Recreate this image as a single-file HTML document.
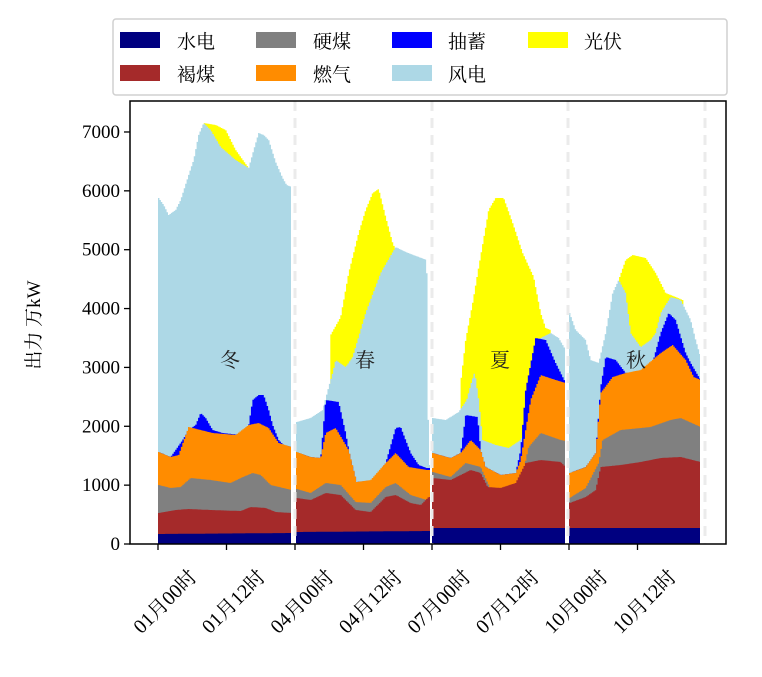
<!DOCTYPE html>
<html><head><meta charset="utf-8"><style>
html,body{margin:0;padding:0;background:#fff}
svg{display:block;font-family:"Liberation Serif","Noto Serif CJK SC",serif}
</style></head><body>
<svg id="s" width="762" height="677" viewBox="0 0 762 677" xmlns="http://www.w3.org/2000/svg">
<rect width="762" height="677" fill="#fff"/>
<g id="areas"></g>
<g stroke="#ebebeb" stroke-width="3" stroke-dasharray="10,7">
<line x1="295" y1="101" x2="295" y2="544"/><line x1="432" y1="101" x2="432" y2="544"/>
<line x1="568" y1="101" x2="568" y2="544"/><line x1="705" y1="101" x2="705" y2="544"/>
</g>
<g font-size="20" fill="#222" text-anchor="middle">
<text x="230" y="367">冬</text><text x="365" y="367">春</text><text x="500" y="367">夏</text><text x="636" y="367">秋</text>
</g>
<rect x="130" y="101" width="596" height="443" fill="none" stroke="#000" stroke-width="1.5"/>
<g stroke="#000" stroke-width="1.3" id="ticks"></g>
<g font-size="19" fill="#000" text-anchor="end" id="ylab"></g>
<g font-size="19" fill="#000" text-anchor="end" id="xlab"></g>
<text transform="translate(40,325) rotate(-90)" font-size="19" text-anchor="middle">出力 万kW</text>
<rect x="113" y="19" width="614" height="76" rx="3" fill="#fff" stroke="#d0d0d0" stroke-width="1.5"/>
<g font-size="19" fill="#000">
<rect x="120" y="32" width="40" height="16" fill="#000080"/><text x="177" y="48">水电</text>
<rect x="256" y="32" width="40" height="16" fill="#808080"/><text x="313" y="48">硬煤</text>
<rect x="392" y="32" width="40" height="16" fill="#0000ff"/><text x="448" y="48">抽蓄</text>
<rect x="528" y="32" width="40" height="16" fill="#ffff00"/><text x="584" y="48">光伏</text>
<rect x="120" y="65" width="40" height="16" fill="#a52a2a"/><text x="177" y="81">褐煤</text>
<rect x="256" y="65" width="40" height="16" fill="#ff8c00"/><text x="313" y="81">燃气</text>
<rect x="392" y="65" width="40" height="16" fill="#add8e6"/><text x="448" y="81">风电</text>
</g>
</svg>
<script>
var B=544,NS="http://www.w3.org/2000/svg";
var seasons=[
{x0:158,x1:291,L:{
sol:[[158,340],[200,300],[203,123],[215,125],[225,130],[235,150],[248,168],[252,330]],
wind:[[158,198],[163,205],[168,215],[175,210],[180,200],[188,175],[193,160],[198,135],[203,123],[210,130],[220,147],[235,160],[248,168],[253,150],[258,133],[263,135],[268,140],[275,162],[282,178],[286,185],[291,187]],
blue:[[158,452],[170,457],[182,440],[188,430],[195,425],[200,413],[205,418],[212,430],[222,433],[240,435],[248,425],[252,400],[258,395],[263,395],[268,410],[272,425],[278,440],[283,445],[291,447]],
gas:[[158,452],[170,457],[178,455],[188,427],[200,430],[212,433],[235,435],[248,425],[258,423],[268,428],[278,443],[291,447]],
coal:[[158,485],[170,488],[180,487],[190,478],[210,480],[230,483],[240,478],[252,473],[260,475],[270,485],[291,490]],
lig:[[158,513],[175,510],[188,509],[210,510],[240,511],[250,507],[265,508],[275,512],[291,513]],
hyd:[[158,534],[291,533]]}},
{x0:296,x1:430,L:{
sol:[[296,544],[328,544],[330,335],[340,317],[348,273],[358,233],[365,210],[372,193],[378,189],[385,217],[392,243],[395,250],[400,544]],
wind:[[296,422],[310,418],[322,410],[328,387],[332,373],[335,360],[345,367],[352,357],[365,313],[380,273],[395,247],[405,252],[418,257],[426,260],[428,465]],
blue:[[296,452],[310,457],[320,458],[325,400],[338,402],[345,433],[350,460],[356,482],[375,480],[385,463],[395,428],[400,427],[405,440],[410,453],[418,465],[426,468]],
gas:[[296,452],[310,457],[320,458],[325,433],[335,428],[348,450],[356,482],[370,480],[385,463],[395,453],[408,467],[426,470]],
coal:[[296,489],[310,493],[325,483],[340,485],[355,502],[370,503],[385,487],[395,483],[410,495],[426,500]],
lig:[[296,498],[310,500],[325,493],[340,495],[355,510],[370,512],[385,497],[395,495],[410,503],[420,505],[428,497]],
hyd:[[296,532],[428,531]]}},
{x0:432,x1:565,L:{
sol:[[432,544],[458,544],[460,383],[465,340],[472,303],[477,273],[488,210],[495,198],[503,198],[512,223],[522,253],[533,277],[540,313],[545,328],[550,330],[552,544]],
wind:[[432,418],[445,420],[458,412],[466,400],[470,385],[474,372],[478,400],[482,440],[495,445],[508,448],[520,440],[528,420],[532,383],[536,340],[550,333],[558,338],[565,350]],
blue:[[432,453],[450,458],[460,453],[465,415],[477,417],[480,450],[485,467],[500,475],[515,473],[520,450],[525,390],[535,338],[545,340],[555,363],[565,383]],
gas:[[432,453],[450,458],[460,453],[470,440],[480,450],[485,467],[500,475],[515,473],[520,460],[530,400],[540,375],[555,380],[565,383]],
coal:[[432,472],[450,477],[465,463],[480,467],[487,483],[492,493],[510,493],[520,483],[528,447],[540,433],[560,440],[565,441]],
lig:[[432,478],[450,480],[470,470],[480,473],[487,487],[500,488],[515,483],[525,463],[540,460],[560,462],[565,467]],
hyd:[[432,528],[565,528]]}},
{x0:569,x1:700,L:{
sol:[[569,544],[616,544],[618,280],[625,260],[632,255],[645,258],[655,273],[665,293],[675,297],[682,300],[684,544]],
wind:[[569,313],[575,330],[585,340],[590,360],[598,363],[605,333],[612,293],[618,280],[625,293],[630,333],[640,347],[650,340],[655,333],[660,313],[670,297],[680,300],[690,320],[695,340],[700,357]],
blue:[[569,473],[585,467],[595,453],[600,387],[605,357],[615,360],[625,373],[650,370],[660,333],[668,313],[675,320],[685,353],[690,363],[700,380]],
gas:[[569,473],[585,467],[595,453],[600,393],[612,377],[625,373],[640,370],[660,353],[672,345],[685,360],[693,377],[700,380]],
coal:[[569,498],[585,488],[598,463],[602,440],[620,430],[650,427],[670,420],[680,418],[700,427]],
lig:[[569,503],[585,497],[595,490],[600,467],[620,465],[640,462],[660,458],[680,457],[700,462]],
hyd:[[569,528],[700,528]]}}];
var cols={sol:"#ffff00",wind:"#add8e6",blue:"#0000ff",gas:"#ff8c00",coal:"#808080",lig:"#a52a2a",hyd:"#000080"};
var order=["sol","wind","blue","gas","coal","lig","hyd"];
function interp(pts,x){if(x<=pts[0][0])return pts[0][1];for(var i=1;i<pts.length;i++){if(x<=pts[i][0]){var a=pts[i-1],b=pts[i];return a[1]+(b[1]-a[1])*(x-a[0])/(b[0]-a[0]);}}return pts[pts.length-1][1];}
var g=document.getElementById("areas");
seasons.forEach(function(s){order.forEach(function(k){var pts=s.L[k];var d="M"+s.x0+","+B;var st=1.43;var xs=[];for(var x=s.x0;x<s.x1;x+=st)xs.push(x);xs.push(s.x1);
for(var i=0;i<xs.length;i++){var x=xs[i],xn=(i+1<xs.length)?xs[i+1]:s.x1;var y=interp(pts,x);if(k=="sol"&&y>=543)y=B;d+=" L"+x.toFixed(2)+","+y.toFixed(1)+" L"+xn.toFixed(2)+","+y.toFixed(1);}
d+=" L"+s.x1+","+B+"Z";var p=document.createElementNS(NS,"path");p.setAttribute("d",d);p.setAttribute("fill",cols[k]);g.appendChild(p);});});
var t=document.getElementById("ticks"),yl=document.getElementById("ylab"),xl=document.getElementById("xlab");
for(var v=0;v<=7000;v+=1000){var y=544-v*0.05886;var l=document.createElementNS(NS,"line");l.setAttribute("x1",124);l.setAttribute("x2",130);l.setAttribute("y1",y);l.setAttribute("y2",y);t.appendChild(l);var tx=document.createElementNS(NS,"text");tx.setAttribute("x",120);tx.setAttribute("y",y+6);tx.textContent=v;yl.appendChild(tx);}
var labs=["01月00时","01月12时","04月00时","04月12时","07月00时","07月12时","10月00时","10月12时"];
labs.forEach(function(s,i){var x=158+i*68.5;var l=document.createElementNS(NS,"line");l.setAttribute("x1",x);l.setAttribute("x2",x);l.setAttribute("y1",544);l.setAttribute("y2",550);t.appendChild(l);var tx=document.createElementNS(NS,"text");tx.setAttribute("font-size","20");tx.setAttribute("transform","translate("+(x+40)+",578) rotate(-45)");tx.textContent=s;xl.appendChild(tx);});
</script>
</body></html>
